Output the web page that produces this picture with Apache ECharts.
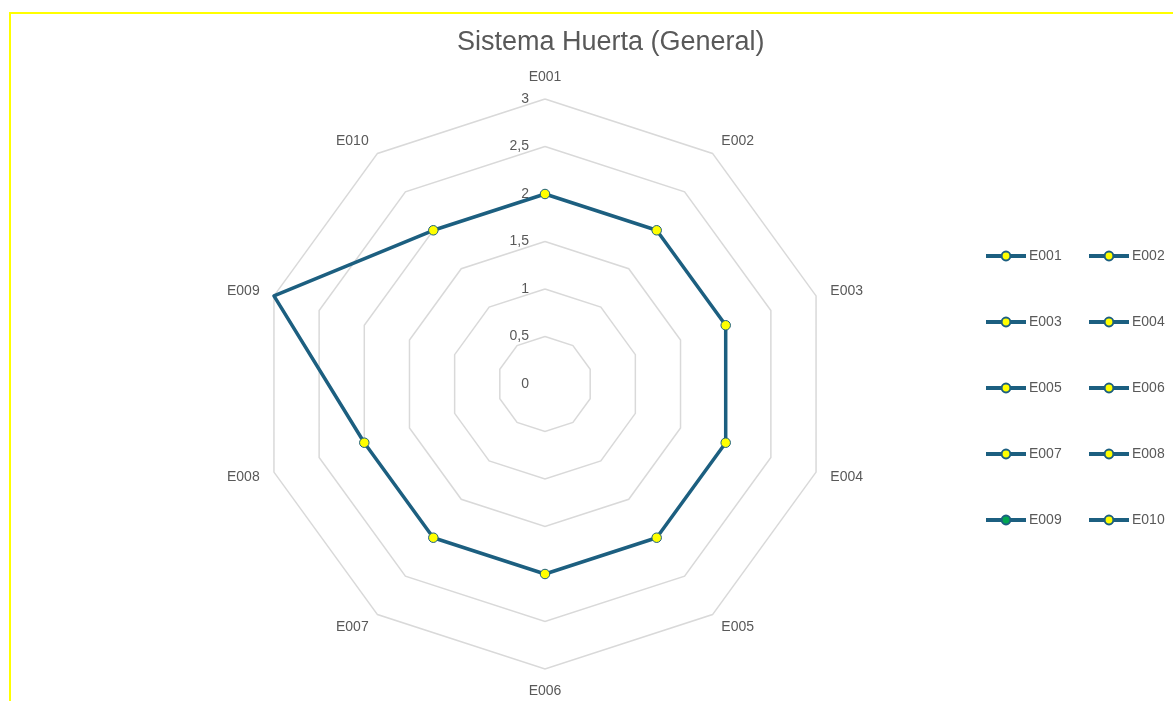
<!DOCTYPE html>
<html>
<head>
<meta charset="utf-8">
<script src="https://cdn.jsdelivr.net/npm/echarts@6/dist/echarts.min.js"></script>
<style>
html,body{margin:0;padding:0;background:#fff;}
#chart{width:1173px;height:701px;}
</style>
</head>
<body>
<div id="chart"></div>
<script>
var categories = ['E001','E002','E003','E004','E005','E006','E007','E008','E009','E010'];
var values = [2, 2, 2, 2, 2, 2, 2, 2, 3, 2];
var markerColors = ['#FFFF00','#FFFF00','#FFFF00','#FFFF00','#FFFF00','#FFFF00','#FFFF00','#FFFF00','#00A651','#FFFF00'];
var axisMax = 3;
var titleText = 'Sistema Huerta (General)';

var lineColor = '#1C5F80';
var textColor = '#595959';
var font = 'Liberation Sans, Arial, sans-serif';

// radar lays indicators counter-clockwise; reverse (keeping the first) to go clockwise
var order = [0];
for (var i = categories.length - 1; i >= 1; i--) order.push(i);

var indicators = order.map(function (idx, k) {
  var ind = { name: categories[idx], min: 0, max: axisMax };
  if (k === 0) ind.axisLabel = { show: true };
  return ind;
});
var radarValues = order.map(function (idx) { return values[idx]; });

var center = [545, 384];
var radius = 285;

var series = [{
  type: 'radar',
  radarIndex: 0,
  symbol: 'none',
  silent: true,
  z: 2,
  lineStyle: { color: lineColor, width: 3.5 },
  data: [{ value: radarValues, name: 'Sistema' }]
}];
categories.forEach(function (c, i) {
  series.push({
    type: 'line',
    name: c,
    coordinateSystem: 'polar',
    polarIndex: 0,
    z: 5,
    symbol: 'circle',
    symbolSize: 9.5,
    showSymbol: true,
    lineStyle: { color: lineColor, width: 4 },
    itemStyle: { color: markerColors[i], borderColor: lineColor, borderWidth: 1 },
    data: [[values[i], i]]
  });
});

function legendFor(names, left) {
  return {
    orient: 'vertical',
    left: left,
    top: 244,
    itemWidth: 40,
    itemHeight: 11,
    itemGap: 52,
    selectedMode: false,
    lineStyle: { width: 4 },
    textStyle: { color: textColor, fontSize: 14, fontFamily: font, padding: [0, 0, 0, -2] },
    data: names
  };
}

var chart = echarts.init(document.getElementById('chart'), null, { renderer: 'canvas' });
chart.setOption({
  backgroundColor: '#ffffff',
  animation: false,
  title: {
    text: titleText,
    left: 452,
    top: 24,
    textStyle: { color: textColor, fontSize: 27, fontWeight: 'normal', fontFamily: font }
  },
  legend: [
    legendFor(['E001','E003','E005','E007','E009'], 979),
    legendFor(['E002','E004','E006','E008','E010'], 1082)
  ],
  radar: {
    center: center,
    radius: radius,
    startAngle: 90,
    shape: 'polygon',
    splitNumber: 6,
    nameGap: 15,
    axisName: { color: textColor, fontSize: 14, fontFamily: font },
    axisLine: { show: false },
    axisTick: { show: false },
    axisLabel: {
      show: false,
      color: textColor,
      fontSize: 14,
      fontFamily: font,
      margin: 16,
      align: 'right',
      formatter: function (v) { return String(v).replace('.', ','); }
    },
    splitLine: { lineStyle: { color: '#D9D9D9', width: 1.5 } },
    splitArea: { show: false },
    indicator: indicators
  },
  polar: { center: center, radius: radius },
  angleAxis: {
    type: 'category',
    data: categories,
    boundaryGap: false,
    startAngle: 90,
    clockwise: true,
    show: false
  },
  radiusAxis: { type: 'value', min: 0, max: axisMax, show: false },
  graphic: [{
    type: 'polyline',
    silent: true,
    shape: { points: [[10, 701], [10, 13], [1173, 13]] },
    style: { stroke: '#FFFF00', lineWidth: 2, fill: null }
  }],
  series: series
});
</script>
</body>
</html>
